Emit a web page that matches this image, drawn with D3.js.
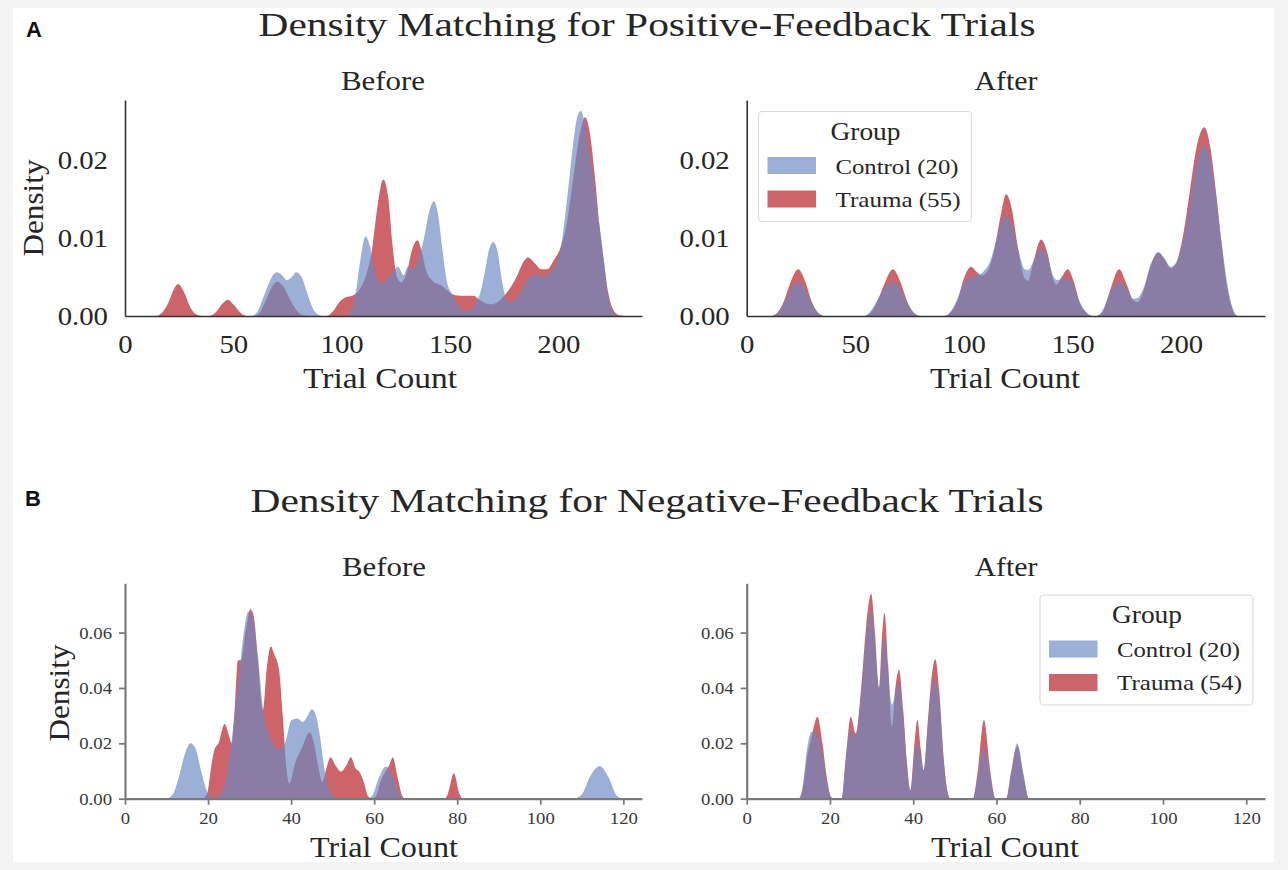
<!DOCTYPE html>
<html><head><meta charset="utf-8">
<script src="https://cdn.jsdelivr.net/npm/d3@7"></script>
<style>body{margin:0;background:#f3f3f3}svg{display:block}</style>
</head><body><svg id="c" width="1288" height="870"></svg>
<script>
// ---------- DATA (trial count, density) ----------
const posBeforeControl = [[0,0],[58,0],[61,0.0005],[64,0.0025],[67,0.0046],[70,0.0056],[72.5,0.0052],[74.7,0.0046],[77,0.0050],[79,0.0056],[81.5,0.0050],[84,0.0030],[86.5,0.0011],[89,0.0002],[92,0],[102,0],[104.5,0.0008],[106.5,0.0030],[108.5,0.0070],[111,0.0102],[113,0.0090],[115,0.0062],[117,0.0046],[118.5,0.0042],[121,0.0048],[124,0.0058],[126,0.0063],[128.5,0.0052],[130.5,0.0063],[132.5,0.0060],[135,0.0070],[138,0.0100],[140.5,0.0135],[142.6,0.0147],[144.5,0.0130],[146.5,0.0085],[148.5,0.0045],[150.5,0.0030],[153,0.0018],[156,0.0007],[159,0.0007],[161.5,0.0015],[164,0.0030],[166,0.0055],[168,0.0085],[170,0.0095],[172,0.0082],[174,0.0045],[176,0.0022],[178,0.0018],[180.7,0.0023],[183,0.0033],[186,0.0048],[188.5,0.0053],[191,0.0053],[193.5,0.0050],[196,0.0055],[199,0.0068],[201,0.0085],[203,0.0125],[205,0.0175],[207,0.0225],[209,0.0258],[210.3,0.0263],[212,0.0250],[214,0.0215],[216,0.0180],[218,0.0135],[220,0.0095],[221.5,0.0060],[223,0.0025],[225,0.0007],[227,0.0001],[230,0],[238,0]];
const posBeforeTrauma = [[0,0],[14,0],[17,0.0004],[20,0.0017],[22.5,0.0034],[24.5,0.0041],[27,0.0032],[30,0.0012],[33,0.0002],[36,0],[39,0],[42,0.0005],[45,0.0016],[47.5,0.0021],[50,0.0015],[53,0.0005],[56,0],[60,0],[62,0.0004],[65,0.0020],[68,0.0038],[70,0.0044],[73,0.0038],[76,0.0022],[79,0.0008],[82,0.0001],[85,0],[93,0],[96,0.0006],[99,0.0018],[102,0.0024],[105,0.0026],[108,0.0033],[111,0.0050],[114,0.0085],[116.5,0.0140],[119.2,0.0175],[121.5,0.0152],[123.5,0.0090],[125.5,0.0050],[127.5,0.0043],[130,0.0055],[132.5,0.0085],[135,0.0097],[137,0.0082],[139,0.0058],[142,0.0045],[146,0.0039],[149,0.0032],[152,0.0027],[155,0.0026],[158,0.0026],[161,0.0026],[163,0.0022],[166,0.0017],[169,0.0015],[172,0.0018],[175,0.0026],[178,0.0037],[181,0.0052],[184,0.0070],[186,0.0075],[189,0.0068],[192,0.0060],[195,0.0060],[198,0.0072],[201,0.0088],[204,0.0120],[207,0.0180],[210,0.0235],[212.3,0.0255],[214.5,0.0235],[217,0.0175],[219,0.0115],[221,0.0070],[223,0.0030],[225,0.0010],[228,0.0001],[231,0],[238,0]];
const posAfterControl = [[0,0],[12,0],[15,0.0006],[18,0.0022],[21,0.0038],[23.7,0.0044],[26.5,0.0037],[29.5,0.0019],[32.5,0.0005],[36,0],[54,0],[57,0.0006],[60.5,0.0022],[64,0.0038],[67.3,0.0044],[70.5,0.0037],[73.5,0.0019],[76.5,0.0005],[80,0],[91,0],[94,0.0006],[97,0.0022],[100,0.0042],[103.3,0.0050],[106,0.0052],[109,0.0057],[112,0.0070],[115,0.0098],[117.5,0.0122],[119.5,0.0129],[122,0.0118],[125,0.0085],[128,0.0060],[129.5,0.0059],[132,0.0070],[135.5,0.0087],[138.5,0.0075],[141,0.0052],[143,0.0046],[145.5,0.0048],[148,0.0048],[150.5,0.0040],[153,0.0020],[156,0.0006],[159,0],[161,0],[164,0.0008],[167,0.0028],[171.5,0.0044],[175,0.0035],[178,0.0022],[180,0.0023],[183,0.0038],[186,0.0066],[189.5,0.0082],[192.5,0.0073],[195.2,0.0063],[198,0.0070],[201,0.0098],[204,0.0145],[207,0.0195],[210.7,0.0219],[213.5,0.0200],[216,0.0155],[218.5,0.0098],[221,0.0045],[223.5,0.0012],[226,0],[238,0]];
const posAfterTrauma = [[0,0],[11,0],[14,0.0004],[17,0.0018],[20,0.0042],[23.7,0.0060],[27,0.0044],[30,0.0018],[33,0.0004],[36,0],[54,0],[57,0.0004],[60,0.0018],[63.5,0.0042],[67.3,0.0060],[71,0.0042],[74,0.0018],[77,0.0004],[80,0],[91,0],[94,0.0005],[97,0.0020],[100,0.0048],[103.3,0.0063],[106,0.0056],[108,0.0052],[111,0.0058],[114,0.0085],[117,0.0130],[119.4,0.0156],[122,0.0138],[125,0.0085],[128,0.0048],[129.5,0.0045],[132,0.0070],[135.5,0.0098],[138.5,0.0080],[141,0.0048],[142.5,0.0040],[145,0.0050],[147.8,0.0060],[150.5,0.0045],[153,0.0020],[156,0.0005],[159,0],[161,0],[164,0.0006],[167,0.0030],[171.5,0.0060],[175,0.0040],[178,0.0020],[180,0.0018],[183,0.0035],[186,0.0065],[189.5,0.0081],[192.5,0.0072],[195.2,0.0061],[198,0.0070],[201,0.0105],[204,0.0160],[207,0.0215],[210.7,0.0242],[213.5,0.0215],[216,0.0160],[218.5,0.0095],[221,0.0040],[223.5,0.0010],[226,0],[238,0]];

const negBeforeControl = [[0,0],[10,0],[11.5,0.0015],[13,0.0080],[14.5,0.0165],[15.8,0.0200],[17,0.0180],[18.5,0.0090],[20,0.0020],[21.5,0.0003],[23,0.0015],[24.5,0.0080],[26,0.0250],[27.5,0.0450],[28.8,0.0620],[29.7,0.0676],[30.8,0.0650],[32,0.0520],[33.2,0.0330],[35,0.0220],[37,0.0180],[38.5,0.0200],[40.1,0.0284],[41.5,0.0290],[42.8,0.0278],[44,0.0300],[45,0.0323],[46,0.0300],[47,0.0220],[48,0.0110],[49,0.0040],[50.5,0.0008],[52,0],[58,0],[59.5,0.0010],[61,0.0070],[62.8,0.0116],[64.5,0.0080],[66,0.0020],[67.5,0],[108,0],[110,0.0015],[112,0.0080],[114.3,0.0118],[116.5,0.0075],[118.5,0.0010],[120,0],[124.5,0]];
const negBeforeTrauma = [[0,0],[18.5,0],[19.8,0.0020],[20.8,0.0120],[21.5,0.0176],[22.5,0.0200],[24,0.0270],[25,0.0230],[25.7,0.0200],[26.3,0.0300],[27.2,0.0500],[28,0.0500],[29,0.0600],[30.2,0.0684],[31,0.0660],[32,0.0500],[33.2,0.0320],[34.2,0.0480],[35.1,0.0550],[36,0.0520],[37.1,0.0465],[38,0.0300],[38.8,0.0120],[39.6,0.0055],[41,0.0130],[42.5,0.0180],[44.5,0.0240],[45.5,0.0200],[46.5,0.0120],[47.5,0.0060],[48.5,0.0110],[49.5,0.0150],[50.7,0.0120],[52,0.0098],[53.3,0.0120],[54.4,0.0150],[55.5,0.0110],[56.4,0.0098],[57.5,0.0060],[58.5,0.0010],[59.5,0],[60.5,0.0010],[61.5,0.0060],[62.8,0.0100],[63.6,0.0120],[64.5,0.0150],[65.6,0.0080],[66.8,0.0010],[67.5,0],[77,0],[77.8,0.0020],[79.2,0.0092],[80.5,0.0020],[81.3,0],[124.5,0]];
const negAfterControl = [[0,0],[12.5,0],[13.5,0.0050],[14.5,0.0180],[15.6,0.0242],[17,0.0230],[18.2,0.0160],[19.3,0.0060],[20.3,0.0005],[21,0],[22.8,0],[23.8,0.0140],[25,0.0250],[26.2,0.0225],[27.5,0.0380],[28.8,0.0600],[29.9,0.0680],[30.8,0.0560],[31.8,0.0400],[32.4,0.0500],[33.1,0.0585],[34,0.0450],[34.9,0.0340],[35.7,0.0380],[36.6,0.0417],[37.6,0.0300],[38.5,0.0120],[39.3,0.0030],[40.2,0.0140],[41,0.0200],[41.8,0.0150],[42.5,0.0104],[43.6,0.0280],[44.5,0.0400],[45.3,0.0429],[46.3,0.0340],[47.3,0.0140],[48.3,0.0020],[49,0],[54.3,0],[55.5,0.0080],[57,0.0180],[58.5,0.0080],[59.8,0],[62.3,0],[63.5,0.0100],[65,0.0200],[66.5,0.0090],[67.8,0],[124.5,0]];
const negAfterTrauma = [[0,0],[12.5,0],[13.5,0.0040],[14.5,0.0150],[15.6,0.0225],[17,0.0296],[18.2,0.0200],[19.3,0.0070],[20.3,0.0005],[21,0],[22.8,0],[23.8,0.0150],[25,0.0296],[26.2,0.0236],[27.5,0.0400],[28.8,0.0640],[29.9,0.0740],[30.8,0.0600],[31.8,0.0400],[32.4,0.0560],[33.1,0.0672],[34,0.0480],[34.9,0.0260],[35.7,0.0400],[36.6,0.0465],[37.6,0.0320],[38.5,0.0130],[39.3,0.0030],[40.2,0.0180],[41,0.0284],[41.8,0.0180],[42.5,0.0104],[43.6,0.0300],[44.5,0.0450],[45.3,0.0504],[46.3,0.0380],[47.3,0.0150],[48.3,0.0020],[49,0],[54.3,0],[55.5,0.0100],[57,0.0284],[58.5,0.0100],[59.8,0],[62.3,0],[63.5,0.0090],[65,0.0190],[66.5,0.0080],[67.8,0],[124.5,0]];

const posXTicks = [0, 50, 100, 150, 200];
const posYTicks = [0, 0.01, 0.02];
const negXTicks = [0, 20, 40, 60, 80, 100, 120];
const negYTicks = [0, 0.02, 0.04, 0.06];
const posLegendLabels = ["Control (20)", "Trauma (55)"];
const negLegendLabels = ["Control (20)", "Trauma (54)"];
const legendTitle = "Group";
const panelLetters = ["A", "B"];
const figureTitles = ["Density Matching for Positive-Feedback Trials", "Density Matching for Negative-Feedback Trials"];
const subTitles = ["Before", "After"];
const xLabel = "Trial Count";
const yLabel = "Density";

// ---------- STYLE ----------
const SERIF = "'Liberation Serif','Times New Roman',serif";
const RED = "rgb(205,100,105)";
const BLUE = "rgb(106,136,195)";
const BLUE_OP = 0.67;
const TXT = "#262626";

const svg = d3.select("#c");
svg.append("rect").attr("width",1288).attr("height",870).attr("fill","#f3f3f3");
svg.append("rect").attr("x",13).attr("y",8).attr("width",1261).attr("height",854).attr("fill","#fff");

function stretch(sel, k){
  sel.each(function(){
    const w = this.getComputedTextLength();
    this.setAttribute("textLength", w*k);
    this.setAttribute("lengthAdjust","spacingAndGlyphs");
  });
}
function text(str, x, y, size, width, anchor, opts={}){
  const t = svg.append("text").text(str).attr("x",x).attr("y",y)
    .attr("font-family", opts.family || SERIF).attr("font-size",size)
    .attr("font-weight", opts.weight || "normal")
    .attr("fill", opts.fill || TXT).attr("text-anchor", anchor || "start");
  if (opts.transform) t.attr("transform", opts.transform);
  if (width) t.attr("textLength", width).attr("lengthAdjust","spacingAndGlyphs");
  return t;
}

function panel(cfg){
  const x = d3.scaleLinear().domain(cfg.xDomain).range([cfg.left, cfg.right]);
  const y = d3.scaleLinear().domain(cfg.yDomain).range([cfg.bottom, cfg.top]);
  const area = d3.area().x(d=>x(d[0])).y0(y(0)).y1(d=>y(d[1])).curve(d3.curveMonotoneX);
  svg.append("path").datum(cfg.trauma).attr("d", area).attr("fill", RED);
  svg.append("path").datum(cfg.control).attr("d", area).attr("fill", BLUE).attr("fill-opacity", BLUE_OP);

  const xa = d3.axisBottom(x).tickValues(cfg.xTicks).tickFormat(d3.format("d"))
    .tickSize(cfg.tick).tickSizeOuter(0).tickPadding(cfg.xPad);
  const ya = d3.axisLeft(y).tickValues(cfg.yTicks).tickFormat(d3.format(".2f"))
    .tickSize(cfg.tick).tickSizeOuter(0).tickPadding(cfg.yPad);
  const gx = svg.append("g").attr("transform",`translate(0,${cfg.bottom})`).call(xa);
  const gy = svg.append("g").attr("transform",`translate(${cfg.left},0)`).call(ya);
  [gx, gy].forEach(g=>{
    g.attr("font-family", SERIF).attr("font-size", cfg.fs);
    g.select(".domain").attr("stroke", cfg.axisColor).attr("stroke-width", cfg.axisW);
    g.selectAll(".tick line").attr("stroke", cfg.axisColor).attr("stroke-width", cfg.axisW*0.8);
    g.selectAll(".tick text").attr("fill", cfg.tickColor);
    stretch(g.selectAll(".tick text"), cfg.stretchK);
  });
}

// ---------- PANELS ----------
const topCommon = {top:100, bottom:316, yDomain:[0,0.0277], xDomain:[0,238.6], xTicks:posXTicks, yTicks:posYTicks,
  tick:0, xPad:19, yPad:17, fs:25, stretchK:1.15, axisColor:"#333", axisW:1.6, tickColor:"#262626"};
const botCommon = {top:583.3, bottom:798.7, yDomain:[0,0.0778], xDomain:[0,124.5], xTicks:negXTicks, yTicks:negYTicks,
  tick:6, xPad:7, yPad:7, fs:17.5, stretchK:1.07, axisColor:"#7a7a7a", axisW:2.2, tickColor:"#383838"};

panel({...topCommon, left:125, right:642, control:posBeforeControl, trauma:posBeforeTrauma});
panel({...topCommon, left:746.7, right:1265, control:posAfterControl, trauma:posAfterTrauma});
panel({...botCommon, left:125, right:642, control:negBeforeControl, trauma:negBeforeTrauma});
panel({...botCommon, left:746.7, right:1265, control:negAfterControl, trauma:negAfterTrauma});

// ---------- TEXT ----------
text(panelLetters[0], 26, 37, 22, null, "start", {family:"'Liberation Sans',Arial,sans-serif", weight:"bold", fill:"#111"});
text(panelLetters[1], 25, 506, 22, null, "start", {family:"'Liberation Sans',Arial,sans-serif", weight:"bold", fill:"#111"});
text(figureTitles[0], 647, 36, 33, 777, "middle");
text(figureTitles[1], 647, 511.5, 33, 793, "middle");
text(subTitles[0], 383, 90, 27, 84, "middle");
text(subTitles[1], 1006, 90, 27, 63, "middle");
text(subTitles[0], 384, 576, 27, 84, "middle");
text(subTitles[1], 1006, 576, 27, 63, "middle");
text(xLabel, 380, 388, 30, 154, "middle");
text(xLabel, 1005, 388, 30, 150, "middle");
text(xLabel, 384, 857, 30, 148, "middle");
text(xLabel, 1005, 857, 30, 148, "middle");
text(yLabel, 0, 0, 30, 97, "middle", {transform:"translate(43,208) rotate(-90)"});
text(yLabel, 0, 0, 30, 97, "middle", {transform:"translate(69,693) rotate(-90)"});

// ---------- LEGENDS ----------
function legend(x0, y0, labels){
  svg.append("rect").attr("x",x0).attr("y",y0).attr("width",213).attr("height",110).attr("rx",4)
    .attr("fill","#fff").attr("fill-opacity",0.9).attr("stroke","#dadada").attr("stroke-width",1.2);
  text(legendTitle, x0+107, y0+28, 26, 70, "middle");
  const fills = [[BLUE, BLUE_OP],[RED, 1]];
  labels.forEach((lab,i)=>{
    svg.append("rect").attr("x",x0+9).attr("y",y0+45.5+i*33.5).attr("width",48.5).attr("height",17)
      .attr("fill",fills[i][0]).attr("fill-opacity",fills[i][1]);
    text(lab, x0+77, y0+62+i*33, 22, i===0?123:125, "start");
  });
}
legend(758.5, 111.5, posLegendLabels);
legend(1040, 595, negLegendLabels);
</script></body></html>
